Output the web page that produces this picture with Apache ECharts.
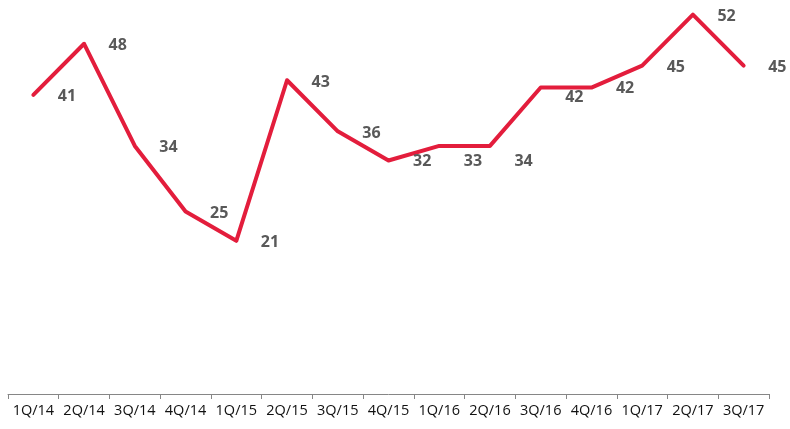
<!DOCTYPE html>
<html>
<head>
<meta charset="utf-8">
<script src="https://cdn.jsdelivr.net/npm/echarts@6/dist/echarts.min.js"></script>
<style>
  html, body { margin: 0; padding: 0; background: #fff; }
  #chart { width: 790px; height: 429px; }
</style>
</head>
<body>
<div id="chart"></div>
<script>
var quarters = ['1Q/14', '2Q/14', '3Q/14', '4Q/14', '1Q/15', '2Q/15', '3Q/15', '4Q/15',
    '1Q/16', '2Q/16', '3Q/16', '4Q/16', '1Q/17', '2Q/17', '3Q/17'];
// line as drawn
var lineValues = [41, 48, 34, 25, 21, 43, 36, 32, 34, 34, 42, 42, 45, 52, 45];
// data label text as printed
var labelValues = [41, 48, 34, 25, 21, 43, 36, 32, 33, 34, 42, 42, 45, 52, 45];

// vertical nudge of a few labels (px), as in the original
var labelNudge = { 7: 1, 8: 16, 9: 16, 10: 10, 11: 1 };

var seriesData = [];
for (var i = 0; i < lineValues.length; i++) {
    var dy = labelNudge[i] || 2;
    seriesData.push({
        value: lineValues[i],
        label: {
            offset: [0, dy],
            formatter: String(labelValues[i])
        }
    });
}

var myChart = echarts.init(document.getElementById('chart'));
var option = {
    animation: false,
    grid: {
        left: 8,
        right: 21,
        top: 0,
        bottom: 35
    },
    xAxis: {
        type: 'category',
        boundaryGap: true,
        data: quarters,
        axisLine: {
            lineStyle: { color: '#868686', width: 1 }
        },
        axisTick: {
            show: true,
            alignWithLabel: false,
            length: 5,
            lineStyle: { color: '#868686' }
        },
        axisLabel: {
            interval: 0,
            margin: 9,
            color: '#111',
            fontFamily: 'Open Sans',
            fontSize: 14.5
        }
    },
    yAxis: {
        type: 'value',
        min: 0,
        max: 54,
        show: false,
        splitLine: { show: false }
    },
    series: [{
        type: 'line',
        data: seriesData,
        symbol: 'circle',
        symbolSize: 1,
        showSymbol: true,
        itemStyle: { color: 'rgba(0,0,0,0)', borderWidth: 0 },
        lineStyle: {
            color: '#E31D3C',
            width: 4,
            join: 'round',
            cap: 'round'
        },
        label: {
            show: true,
            position: 'right',
            distance: 24,
            color: '#595959',
            fontFamily: 'Open Sans',
            fontWeight: 'bold',
            fontSize: 16
        }
    }]
};
myChart.setOption(option);
</script>
</body>
</html>
